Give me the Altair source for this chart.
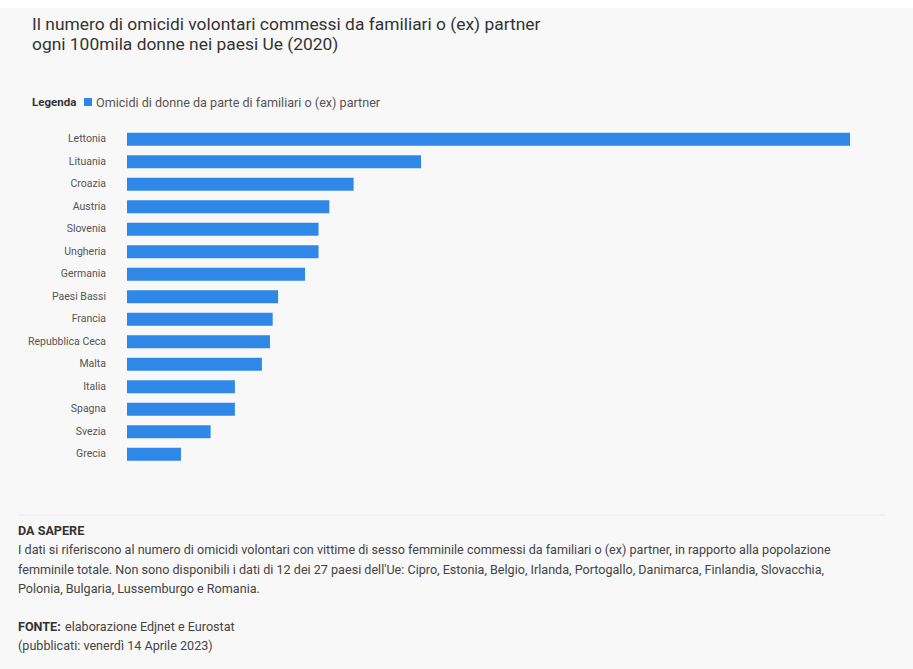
import altair as alt
import pandas as pd

countries = ["Lettonia", "Lituania", "Croazia", "Austria", "Slovenia", "Ungheria",
             "Germania", "Paesi Bassi", "Francia", "Repubblica Ceca", "Malta",
             "Italia", "Spagna", "Svezia", "Grecia"]
values = [2.68, 1.09, 0.84, 0.75, 0.71, 0.71, 0.66, 0.56, 0.54, 0.53, 0.50,
          0.40, 0.40, 0.31, 0.20]

title_lines = ["Il numero di omicidi volontari commessi da familiari o (ex) partner",
               "ogni 100mila donne nei paesi Ue (2020)"]
legend_label = "Omicidi di donne da parte di familiari o (ex) partner"
note_lines = [
    "I dati si riferiscono al numero di omicidi volontari con vittime di sesso femminile commessi da familiari o (ex) partner, in rapporto alla popolazione",
    "femminile totale. Non sono disponibili i dati di 12 dei 27 paesi dell'Ue: Cipro, Estonia, Belgio, Irlanda, Portogallo, Danimarca, Finlandia, Slovacchia,",
    "Polonia, Bulgaria, Lussemburgo e Romania.",
]

BLUE = "#2f87e8"
df = pd.DataFrame({"paese": countries, "valore": values})

yscale = alt.Scale(range=[128, 465.5], paddingInner=0.42, paddingOuter=0.21)

base = alt.Chart(df)
bars = base.mark_bar(color=BLUE, size=13).encode(
    x=alt.X("valore:Q", scale=alt.Scale(domain=[0, 2.68], range=[127, 850]), axis=None),
    y=alt.Y("paese:N", sort=countries, scale=yscale, axis=None),
)
labels = base.mark_text(align="right", baseline="middle", font="Roboto", fontSize=10.5,
                        color="#555555").encode(
    x=alt.value(106),
    y=alt.Y("paese:N", sort=countries, scale=yscale, axis=None),
    text="paese:N",
)

def txt(lines, x, y0, dy, size, color="#333333", weight="normal", font="Roboto"):
    d = pd.DataFrame({"t": lines, "i": list(range(len(lines)))})
    d["y"] = y0 + d["i"] * dy
    return alt.Chart(d).mark_text(align="left", baseline="middle", fontSize=size,
                                  color=color, fontWeight=weight, font=font).encode(
        x=alt.value(x), y=alt.Y("y:Q", scale=None), text="t:N")

title = txt(title_lines, 32, 25, 20, 17.4, color="#333333")
leg1 = txt(["Legenda"], 32, 103, 0, 11.5, color="#333333", weight="bold")
leg_sq = alt.Chart(pd.DataFrame({"a": [0]})).mark_square(color=BLUE, size=64, opacity=1).encode(
    x=alt.value(88), y=alt.value(102))
leg2 = txt([legend_label], 96, 103, 0, 12.6, color="#555555")

sep = alt.Chart(pd.DataFrame({"a": [0]})).mark_rule(color="#ececec", strokeWidth=1).encode(
    x=alt.value(18), x2=alt.value(885), y=alt.value(515))

head = txt(["DA SAPERE"], 18, 531, 0, 12.6, color="#333333", weight="bold")
note = txt(note_lines, 18, 550, 19.5, 12.6, color="#444444")
fonte_b = txt(["FONTE:"], 18, 627, 0, 12.6, color="#333333", weight="bold")
fonte = txt(["elaborazione Edjnet e Eurostat"], 65, 627, 0, 12.6, color="#444444")
pub = txt(["(pubblicati: venerdì 14 Aprile 2023)"], 18, 646, 0, 12.6, color="#444444")

top = alt.Chart(pd.DataFrame({"a": [0]})).mark_rect(color="#ffffff").encode(
    x=alt.value(0), x2=alt.value(913), y=alt.value(0), y2=alt.value(8))

chart = alt.layer(top, sep, bars, labels, title, leg_sq, leg1, leg2, head, note,
                  fonte_b, fonte, pub).properties(
    width=913, height=669, padding=0, autosize=alt.AutoSizeParams(type="none"),
    background="#f8f8f8",
).configure_view(stroke=None)

chart.save("out.html", embed_options={"renderer": "svg", "actions": False})
